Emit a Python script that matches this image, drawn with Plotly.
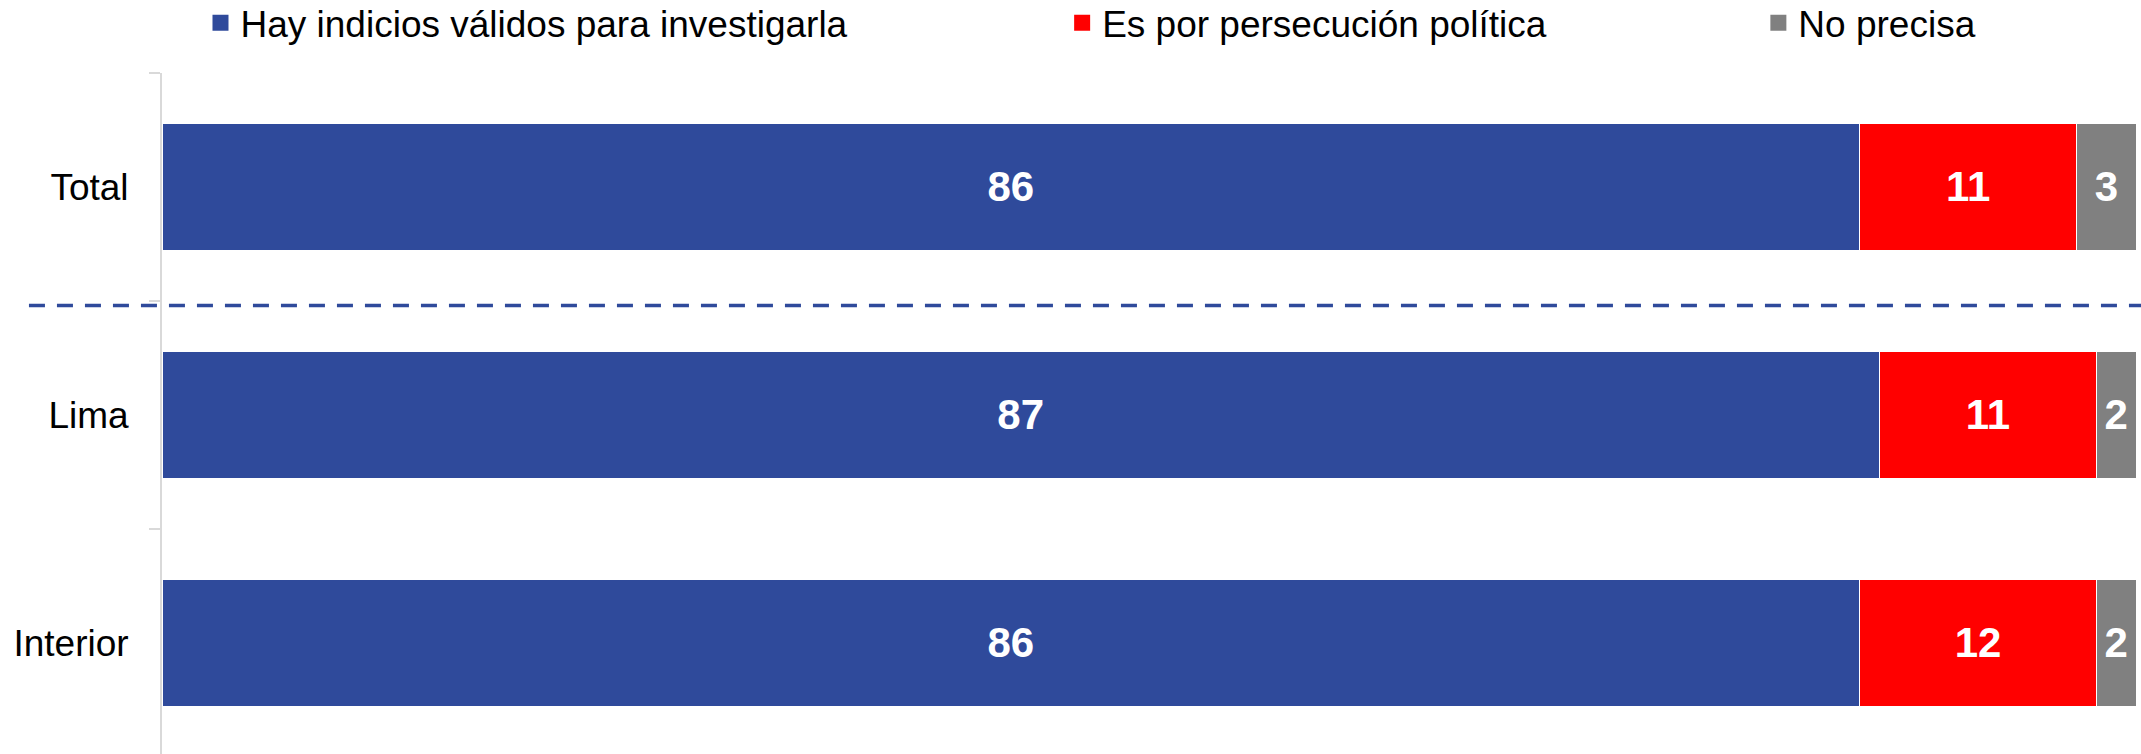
import plotly.graph_objects as go

categories = ["Total", "Lima", "Interior"]
series_names = ["Hay indicios válidos para investigarla", "Es por persecución política", "No precisa"]
hay_indicios = [86, 87, 86]
persecucion = [11, 11, 12]
no_precisa = [3, 2, 2]
colors = ["#2F4A9B", "#FF0000", "#808080"]

FONT = "Liberation Sans, Arial, sans-serif"

fig = go.Figure()
for name, vals, col in zip(series_names, [hay_indicios, persecucion, no_precisa], colors):
    fig.add_trace(go.Bar(
        y=categories, x=vals, name=name, orientation="h",
        marker=dict(color=col, line=dict(color="white", width=1)),
        text=vals, texttemplate="%{x}", textposition="inside",
        insidetextanchor="middle", constraintext="none",
        textfont=dict(family=FONT, size=42, color="white", weight="bold"),
        showlegend=False, hoverinfo="skip",
    ))

# legend entries (square swatches), one legend per entry to match spacing
legend_ids = ["legend", "legend2", "legend3"]
legend_x = [0.0195, 0.456, 0.8087]
for name, col, lid in zip(series_names, colors, legend_ids):
    fig.add_trace(go.Scatter(
        x=[None], y=[None], mode="markers", name=name,
        marker=dict(symbol="square", size=17, color=col),
        legend=lid, showlegend=True, hoverinfo="skip",
    ))

legend_common = dict(orientation="h", yanchor="middle", y=1.073, xanchor="left",
                     font=dict(family=FONT, size=37, color="#000000"),
                     bgcolor="rgba(0,0,0,0)", borderwidth=0, itemsizing="trace")

layout_legends = {}
for lid, lx in zip(legend_ids, legend_x):
    layout_legends[lid] = dict(legend_common, x=lx)

fig.update_layout(
    width=2141, height=754,
    margin=dict(l=162, r=5, t=73, b=0, autoexpand=False),
    barmode="stack", bargap=0.441,
    plot_bgcolor="white", paper_bgcolor="white",
    font=dict(family=FONT, color="#000000"),
    xaxis=dict(range=[0, 100], visible=False, fixedrange=True, automargin=False),
    yaxis=dict(
        type="category", categoryorder="array", categoryarray=categories,
        range=[2.487, -0.5], tickson="boundaries", ticks="outside", ticklen=11,
        tickwidth=2, tickcolor="#D9D9D9", showline=True, linecolor="#D9D9D9",
        linewidth=2, showgrid=False, zeroline=False, automargin=False,
        tickfont=dict(family=FONT, size=37, color="#000000"),
        ticklabelstandoff=24,
    ),
    shapes=[dict(type="line", xref="paper", yref="y", x0=-0.0674, x1=1.003,
                 y0=0.52, y1=0.52,
                 line=dict(color="#2F4A9B", width=3.5, dash="16px,12px"))],
    **layout_legends,
)

fig.write_html(
    "out.html",
    config={"displayModeBar": False},
    post_script="document.body.style.margin='0px';document.body.style.overflow='hidden';",
)
